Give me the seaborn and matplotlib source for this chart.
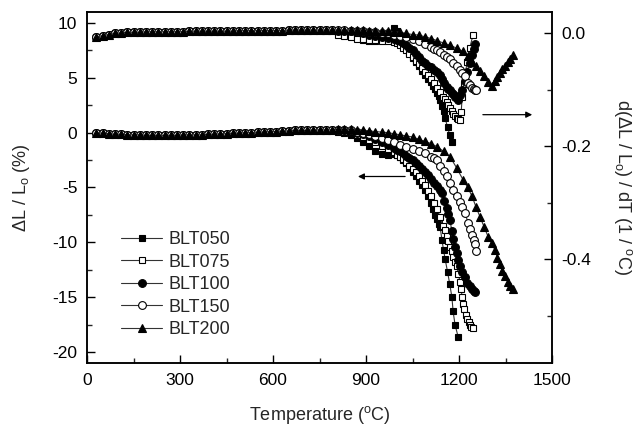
import numpy as np
import matplotlib
matplotlib.use('Agg')
import matplotlib.pyplot as plt
import seaborn as sns

#### readings from the dilatometer plot, temperatures in degC
#### common flat part of all five samples (30 - 790 C)
t_base = [30, 50, 70, 90, 110, 130, 150, 170, 190, 210,
          230, 250, 270, 290, 310, 330, 350, 370, 390, 410,
          430, 450, 470, 490, 510, 530, 550, 570, 590, 610,
          630, 650, 670, 690, 710, 730, 750, 770, 790]
dl_base = [0.0, -0.05, -0.1, -0.15, -0.15, -0.2, -0.2, -0.2, -0.25, -0.25,
           -0.25, -0.25, -0.25, -0.25, -0.2, -0.2, -0.2, -0.2, -0.15, -0.15,
           -0.1, -0.1, -0.05, -0.05, 0.0, 0.0, 0.05, 0.05, 0.1, 0.1,
           0.15, 0.15, 0.2, 0.2, 0.2, 0.25, 0.25, 0.25, 0.25]
dr_base = [-0.006, -0.004, -0.002, 0.0, 0.001, 0.002, 0.002, 0.002, 0.003, 0.003,
           0.003, 0.003, 0.003, 0.003, 0.003, 0.004, 0.004, 0.004, 0.004, 0.004,
           0.004, 0.004, 0.004, 0.005, 0.005, 0.005, 0.005, 0.005, 0.005, 0.005,
           0.005, 0.006, 0.006, 0.006, 0.006, 0.006, 0.006, 0.006, 0.006]

nan = np.nan

#### BLT050
t050 = [810, 830, 850, 870, 890, 910, 930, 950, 970, 990,
        1000, 1010, 1020, 1030, 1040, 1050, 1060, 1070, 1080, 1090,
        1100, 1108, 1116, 1123, 1130, 1135, 1139, 1145, 1150, 1155,
        1163, 1170, 1177, 1181, 1187, 1197]
dl050 = [0.1, -0.05, -0.25, -0.5, -0.85, -1.25, -1.65, -1.95, -2.0, -1.95,
         -2.0, -2.2, -2.5, -2.8, -3.2, -3.6, -4.0, -4.4, -4.8, -5.2,
         -5.8, -6.4, -7.0, -7.5, -7.9, -8.3, -8.6, -9.8, -10.7, -11.5,
         -12.7, -13.8, -15.0, -16.3, -17.5, -18.6]
dr050 = [0.004, 0.0, -0.004, -0.008, -0.011, -0.013, -0.014, -0.012, -0.002, 0.01,
         0.004, -0.004, -0.015, -0.026, -0.035, -0.043, -0.05, -0.058, -0.066, -0.073,
         -0.08, -0.086, -0.093, -0.098, -0.106, -0.111, -0.118, -0.128, -0.138, -0.15,
         -0.166, -0.18, -0.193, nan, nan, nan]

#### BLT075
t075 = [810, 830, 850, 870, 890, 910, 930, 950, 970, 990,
        1000, 1010, 1020, 1030, 1040, 1050, 1060, 1070, 1080, 1090,
        1100, 1110, 1120, 1130, 1139, 1148, 1154, 1160, 1166, 1171,
        1177, 1182, 1188, 1193, 1198, 1203, 1207, 1210, 1213, 1216,
        1221, 1226, 1231, 1235, 1240, 1245]
dl075 = [0.2, 0.1, 0.0, -0.2, -0.4, -0.65, -0.9, -1.2, -1.5, -1.8,
         -2.0, -2.2, -2.45, -2.7, -3.0, -3.3, -3.6, -4.0, -4.4, -4.8,
         -5.3, -5.8, -6.4, -7.0, -7.7, -8.5, -8.9, -9.4, -9.9, -10.4,
         -10.8, -11.3, -11.8, -12.2, -12.9, -13.6, -14.3, -15.0, -15.6, -16.1,
         -16.6, -17.0, -17.3, -17.5, -17.7, -17.8]
dr075 = [-0.003, -0.005, -0.007, -0.009, -0.01, -0.011, -0.012, -0.013, -0.014, -0.015,
         -0.017, -0.02, -0.025, -0.03, -0.036, -0.042, -0.048, -0.055, -0.061, -0.068,
         -0.074, -0.081, -0.088, -0.096, -0.104, -0.112, -0.117, -0.122, -0.127, -0.132,
         -0.137, -0.142, -0.146, -0.15, -0.152, -0.153, -0.14, -0.113, nan, -0.09,
         nan, -0.05, nan, -0.025, nan, -0.003]

#### BLT100
t100 = [810, 830, 850, 870, 890, 910, 930, 950, 970, 990,
        1000, 1010, 1020, 1030, 1040, 1050, 1060, 1070, 1080, 1090,
        1100, 1110, 1120, 1130, 1138, 1145, 1153, 1161, 1166, 1171,
        1177, 1182, 1187, 1192, 1197, 1204, 1210, 1218, 1226, 1234,
        1242, 1247, 1252]
dl100 = [0.2, 0.2, 0.1, 0.0, -0.15, -0.35, -0.6, -0.85, -1.1, -1.4,
         -1.55, -1.7, -1.9, -2.1, -2.3, -2.5, -2.75, -3.0, -3.3, -3.6,
         -3.9, -4.2, -4.55, -4.9, -5.2, -5.5, -6.2, -6.9, -7.4, -8.0,
         -9.0, -9.7, -10.4, -11.0, -11.6, -12.2, -12.7, -13.2, -13.7, -14.0,
         -14.3, -14.4, -14.5]
dr100 = [0.005, 0.005, 0.004, 0.002, 0.0, -0.002, -0.004, -0.006, -0.008, -0.01,
         -0.012, -0.014, -0.017, -0.02, -0.025, -0.03, -0.036, -0.042, -0.048, -0.053,
         -0.057, -0.06, -0.064, -0.068, -0.074, -0.08, -0.087, -0.095, -0.098, -0.1,
         -0.105, -0.108, -0.112, -0.115, -0.118, -0.11, -0.1, -0.085, -0.068, -0.052,
         -0.038, -0.028, -0.018]

#### BLT150
t150 = [810, 830, 850, 870, 890, 910, 930, 950, 970, 990,
        1010, 1030, 1050, 1070, 1090, 1110, 1120, 1129, 1139, 1150,
        1161, 1171, 1181, 1192, 1203, 1211, 1219, 1229, 1236, 1242,
        1248, 1252, 1255]
dl150 = [0.2, 0.2, 0.2, 0.1, 0.0, -0.1, -0.3, -0.5, -0.7, -0.9,
         -1.1, -1.3, -1.5, -1.7, -1.9, -2.2, -2.35, -2.5, -3.0, -3.5,
         -4.0, -4.6, -5.2, -5.8, -6.3, -6.8, -7.3, -8.2, -8.8, -9.3,
         -9.8, -10.2, -10.8]
dr150 = [0.006, 0.006, 0.005, 0.005, 0.004, 0.003, 0.002, 0.001, 0.0, -0.002,
         -0.004, -0.006, -0.009, -0.013, -0.018, -0.024, -0.027, -0.029, -0.033, -0.038,
         -0.042, -0.046, -0.052, -0.058, -0.064, -0.07, -0.076, -0.088, -0.092, -0.097,
         -0.099, -0.1, -0.1]

#### BLT200
t200 = [810, 830, 850, 870, 890, 910, 930, 950, 970, 990,
        1010, 1030, 1050, 1070, 1090, 1110, 1130, 1150, 1171, 1192,
        1213, 1228, 1242, 1255, 1268, 1281, 1294, 1305, 1316, 1324,
        1332, 1340, 1348, 1357, 1365, 1374]
dl200 = [0.3, 0.3, 0.3, 0.25, 0.2, 0.15, 0.1, 0.05, 0.0, -0.1,
         -0.2, -0.3, -0.4, -0.6, -0.8, -1.0, -1.3, -1.7, -2.2, -3.2,
         -4.3, -5.0, -5.8, -6.8, -7.7, -8.6, -9.5, -10.1, -10.7, -11.4,
         -12.0, -12.6, -13.1, -13.6, -14.0, -14.3]
dr200 = [0.006, 0.006, 0.006, 0.006, 0.006, 0.005, 0.005, 0.005, 0.004, 0.003,
         0.002, 0.0, -0.002, -0.003, -0.006, -0.009, -0.013, -0.017, -0.021, -0.026,
         -0.032, -0.04, -0.05, -0.058, -0.066, -0.075, -0.086, -0.093, -0.085, -0.077,
         -0.07, -0.063, -0.057, -0.05, -0.045, -0.038]

samples = ['BLT050', 'BLT075', 'BLT100', 'BLT150', 'BLT200']
temps = [t050, t075, t100, t150, t200]
shrink = [dl050, dl075, dl100, dl150, dl200]
rate = [dr050, dr075, dr100, dr150, dr200]
markers = ['s', 's', 'o', 'o', '^']
faces = ['black', 'white', 'black', 'white', 'black']
msizes = [5.0, 5.0, 5.6, 5.6, 6.3]

sns.set_style('ticks')
plt.rcParams['font.family'] = ['Liberation Sans', 'DejaVu Sans']
plt.rcParams['mathtext.default'] = 'regular'
plt.rcParams['axes.unicode_minus'] = False

fig = plt.figure(figsize=(6.37, 4.28), dpi=100)
ax = fig.add_axes([0.1366, 0.152, 0.73, 0.82])
ax2 = ax.twinx()

handles = []
for name, t, dl, dr, m, fc, ms in zip(samples, temps, shrink, rate, markers, faces, msizes):
    x = t_base + t
    style = dict(color='#333333', marker=m, markersize=ms, markerfacecolor=fc,
                 markeredgecolor='black', markeredgewidth=0.8, linewidth=0.8)
    sns.lineplot(x=x, y=dl_base + dl, ax=ax, estimator=None, sort=False, **style)
    sns.lineplot(x=x, y=dr_base + dr, ax=ax2, estimator=None, sort=False, **style)
    handles.append(plt.Line2D([], [], label=name, **style))

ax.set_xlim(0, 1500)
ax.set_ylim(-21, 11)
ax2.set_ylim(-0.584, 0.038)
ax.set_xticks([0, 300, 600, 900, 1200, 1500])
ax.set_xticks([150, 450, 750, 1050, 1350], minor=True)
ax.set_yticks([10, 5, 0, -5, -10, -15, -20])
ax.set_yticks([7.5, 2.5, -2.5, -7.5, -12.5, -17.5], minor=True)
ax2.set_yticks([0.0, -0.2, -0.4])
ax2.set_yticks([-0.1, -0.3, -0.5], minor=True)
ax2.set_yticklabels(['0.0', '-0.2', '-0.4'])

for a in (ax, ax2):
    a.tick_params(which='major', direction='in', length=6, width=1, labelsize=12.5,
                  colors='black', pad=7)
    a.tick_params(which='minor', direction='in', length=3.5, width=1)
    for s in a.spines.values():
        s.set_linewidth(1.1)
        s.set_color('black')

ax.set_xlabel('Temperature ($^o$C)', fontsize=13)
ax.set_ylabel('ΔL / L$_o$ (%)', fontsize=13)
ax2.set_ylabel('d(ΔL / L$_o$) / dT (1 / $^o$C)', fontsize=13, rotation=270, va='center')
ax.xaxis.set_label_coords(0.5, -0.118)
ax.yaxis.set_label_coords(-0.118, 0.5)
ax2.yaxis.set_label_coords(1.153, 0.5)

#### arrows pointing to the axis each group belongs to
ax.annotate('', xy=(865, -4.0), xytext=(1035, -4.0),
            arrowprops=dict(arrowstyle='-|>', color='black', lw=0.9, mutation_scale=9))
ax2.annotate('', xy=(1445, -0.144), xytext=(1268, -0.144),
             arrowprops=dict(arrowstyle='-|>', color='black', lw=0.9, mutation_scale=9))

leg = ax.legend(handles=handles, loc='lower left', bbox_to_anchor=(0.038, 0.025), frameon=False,
                fontsize=13, handlelength=2.3, handletextpad=0.35, labelspacing=0.3, numpoints=1)

fig.savefig('out.png', dpi=100)
